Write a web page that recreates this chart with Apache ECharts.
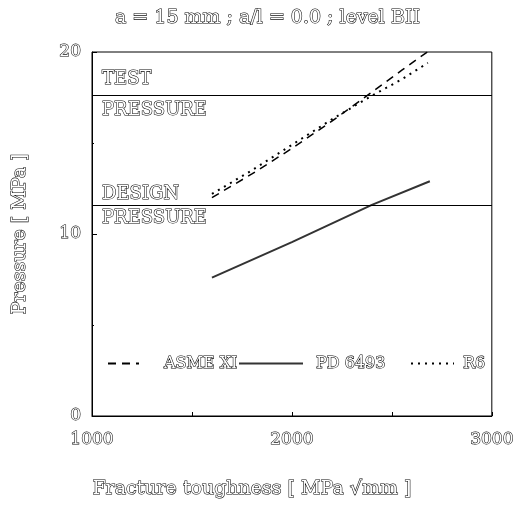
<!DOCTYPE html>
<html><head><meta charset="utf-8">
<script src="https://cdn.jsdelivr.net/npm/echarts@6/dist/echarts.min.js"></script>
<style>html,body{margin:0;padding:0;background:#fff}#c{width:517px;height:508px}</style>
</head><body><div id="c"></div>
<script>
const titleText = 'a = 15 mm ; a/l = 0.0 ; level BII';
const xName = 'Fracture toughness [ MPa \u221Amm ]';
const yName = 'Pressure [ MPa ]';
const xTicks = [1000, 2000, 3000];
const yTicks = [0, 10, 20];
const seriesNames = ['ASME XI', 'PD 6493', 'R6'];
const asme = [[1600,12.0],[1800,13.3],[2000,14.7],[2200,16.2],[2400,17.8],[2550,19.0],[2690,20.1]];
const pd6493 = [[1600,7.6],[2000,9.55],[2400,11.6],[2690,12.9]];
const r6 = [[1600,12.2],[1800,13.5],[2000,14.9],[2200,16.3],[2400,17.6],[2550,18.5],[2680,19.4]];
const testPressure = 17.65;
const designPressure = 11.6;
const pressureLabels = ['TEST', 'DESIGN', 'PRESSURE'];

const F = '"DejaVu Serif", serif';
const hollow = {color:'#fff', textBorderColor:'#000', textBorderWidth:1.1, fontFamily:F};

const chart = echarts.init(document.getElementById('c'));
function legendAt(name, left, w, pad){
  return {data:[name], left:left, top:350, itemWidth:w, itemHeight:14, itemGap:0,
    itemStyle:{opacity:0},
    textStyle:Object.assign({fontSize:16, padding:[0,0,0,pad]}, hollow), selectedMode:false};
}
chart.setOption({
  animation:false,
  title:{text:titleText, left:110, top:4, textStyle:Object.assign({fontSize:19, fontWeight:'normal'}, hollow)},
  grid:{left:92, right:23, top:52, bottom:92, show:true, borderColor:'#000', borderWidth:1},
  legend:[legendAt(seriesNames[0],102,31,20), legendAt(seriesNames[1],233,64,8), legendAt(seriesNames[2],405,43,4)],
  xAxis:{type:'value', min:xTicks[0], max:xTicks[xTicks.length-1], interval:500,
    name:xName, nameLocation:'middle', nameGap:64,
    nameTextStyle:Object.assign({fontSize:19, padding:[0,80,0,0]}, hollow),
    axisLine:{lineStyle:{color:'#000'}}, axisTick:{inside:true, length:4, lineStyle:{color:'#000'}},
    splitLine:{show:false},
    axisLabel:{margin:15, fontSize:17, formatter:v => xTicks.includes(v) ? String(v) : '', ...hollow}},
  yAxis:{type:'value', min:yTicks[0], max:yTicks[yTicks.length-1], interval:10,
    name:yName, nameLocation:'middle', nameGap:62,
    nameTextStyle:Object.assign({fontSize:19}, hollow),
    axisLine:{lineStyle:{color:'#000'}}, axisTick:{inside:true, length:5, lineStyle:{color:'#000'}},
    minorTick:{show:true, splitNumber:2, length:2, lineStyle:{color:'#000'}},
    splitLine:{show:false},
    axisLabel:{margin:11, fontSize:17, ...hollow}},
  series:[
    {name:seriesNames[0], type:'line', data:asme, symbol:'none', lineStyle:{color:'#000', width:1.5, type:[8,6]}, itemStyle:{color:'#000'}},
    {name:seriesNames[1], type:'line', data:pd6493, symbol:'none', lineStyle:{color:'#333', width:2}, itemStyle:{color:'#333'},
      markLine:{silent:true, symbol:'none', lineStyle:{color:'#000', type:'solid', width:1.2},
        label:{fontSize:18, ...hollow},
        data:[
          {yAxis:testPressure, label:{formatter:pressureLabels[0], position:'insideStartTop', distance:[10,6]}},
          {yAxis:testPressure, label:{formatter:pressureLabels[2], position:'insideStartBottom', distance:[10,7]}},
          {yAxis:designPressure, label:{formatter:pressureLabels[1], position:'insideStartTop', distance:[10,2]}},
          {yAxis:designPressure, label:{formatter:pressureLabels[2], position:'insideStartBottom', distance:[10,4]}}
        ]}},
    {name:seriesNames[2], type:'line', data:r6, symbol:'none', lineStyle:{color:'#000', width:2, type:[2,5]}, itemStyle:{color:'#000'}}
  ]
});
</script></body></html>
